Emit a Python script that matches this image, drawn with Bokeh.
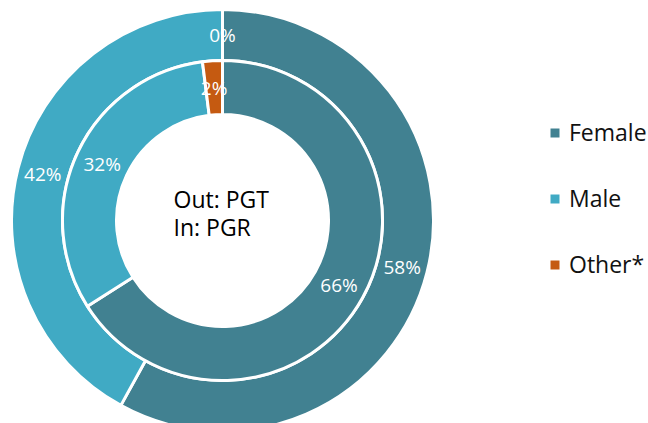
import numpy as np
from bokeh.plotting import figure
from bokeh.models import ColumnDataSource, Range1d, Legend, LegendItem
from bokeh.core.properties import value
from bokeh.embed import file_html
from bokeh.resources import INLINE

# ---- data ----
categories = ["Female", "Male", "Other*"]
outer_pct = [58, 42, 0]   # PGT (outer ring)
inner_pct = [66, 32, 2]   # PGR (inner ring)
colors = ["#418191", "#40AAC4", "#C55A11"]
center_lines = ["Out: PGT", "In: PGR"]

FONT = "Open Sans"


def ring_data(vals, r_in, r_out):
    v = np.array(vals, dtype=float)
    frac = v / v.sum()
    cum_end = np.cumsum(frac)
    cum_start = cum_end - frac
    start = np.pi / 2 - 2 * np.pi * cum_start
    end = np.pi / 2 - 2 * np.pi * cum_end
    mid = (start + end) / 2
    r_mid = (r_in + r_out) / 2
    keep = v > 0
    wedges = ColumnDataSource(dict(
        start=list(start[keep]), end=list(end[keep]),
        color=[c for c, k in zip(colors, keep) if k],
        cat=[c for c, k in zip(categories, keep) if k]))
    labels = ColumnDataSource(dict(
        x=list(r_mid * np.cos(mid)), y=list(r_mid * np.sin(mid)),
        text=[f"{int(round(x))}%" for x in v]))
    return wedges, labels


p = figure(width=648, height=423, output_backend="svg", toolbar_location=None,
           x_range=Range1d(-222, 426), y_range=Range1d(-203, 220),
           x_axis_type=None, y_axis_type=None, min_border=0)
p.grid.visible = False
p.outline_line_color = None
p.background_fill_color = "white"
p.border_fill_color = "white"

R_HOLE, R_MID, R_OUT = 106, 160, 211

ring_renderers = []
for vals, r0, r1 in [(outer_pct, R_MID, R_OUT), (inner_pct, R_HOLE, R_MID)]:
    w, l = ring_data(vals, r0, r1)
    r = p.annular_wedge(x=0, y=0, inner_radius=r0, outer_radius=r1,
                        start_angle="start", end_angle="end", direction="clock",
                        fill_color="color", line_color="white", line_width=3, source=w)
    ring_renderers.append((r, w))
    p.text(x="x", y="y", text="text", source=l, text_align="center",
           text_baseline="middle", text_color="white",
           text_font=value(FONT), text_font_size="19px")

# center text
p.text(x=[-49, -49], y=[21.5, -6.4], text=center_lines, text_align="left",
       text_baseline="middle", text_color="#000000",
       text_font=value(FONT), text_font_size="23px")

# legend (uses the ring slices themselves)
items = []
for c in categories:
    for r, w in ring_renderers[::-1]:
        if c in w.data["cat"]:
            items.append(LegendItem(label=c, renderers=[r], index=w.data["cat"].index(c)))
            break

legend = Legend(items=items, location=(547, 143), orientation="vertical",
                glyph_width=15, glyph_height=15, label_standoff=7,
                label_height=30, spacing=34, padding=0, margin=0,
                border_line_color=None, background_fill_alpha=0,
                label_text_font=FONT, label_text_font_size="23px",
                label_text_color="#111111")
p.add_layout(legend)

open("out.html", "w").write(file_html(p, INLINE))
